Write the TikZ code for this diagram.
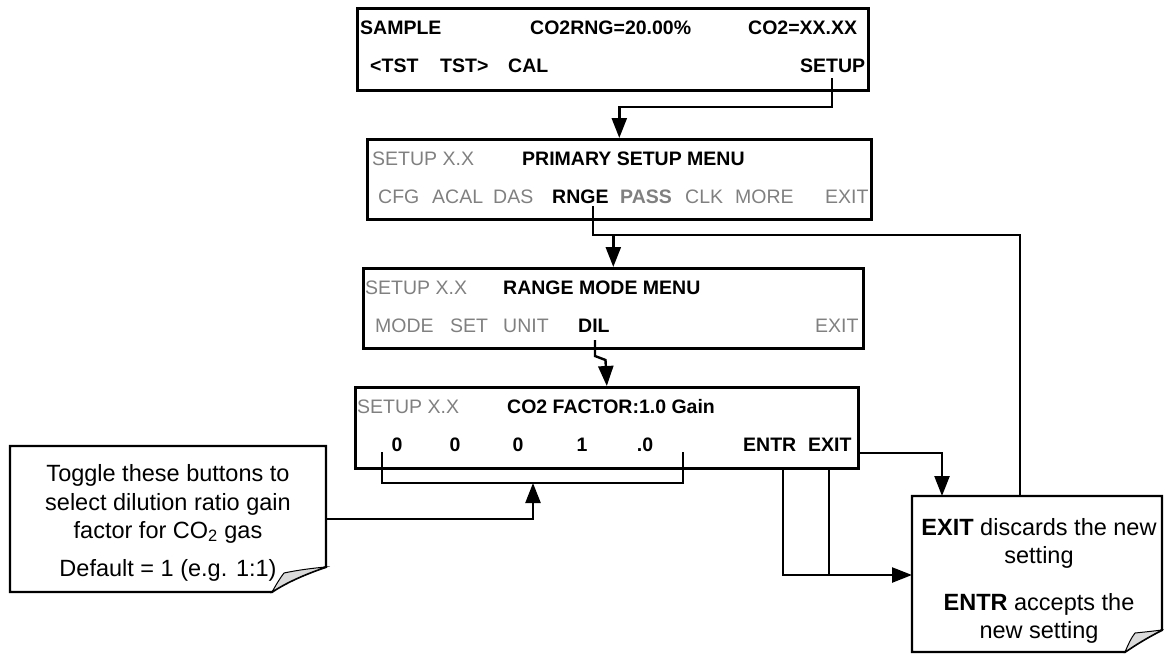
\documentclass[tikz,border=0pt]{standalone}
\usepackage{fontspec}
\setmainfont{Liberation Sans}
\usetikzlibrary{arrows.meta}
\definecolor{keygray}{RGB}{128,128,128}
\definecolor{foldgray}{RGB}{218,218,218}
\begin{document}
\begin{tikzpicture}[x=1pt,y=-1pt,
  panel/.style={draw, line width=2.6pt, inner sep=0pt, anchor=north west},
  dtxt/.style={font=\fontsize{19.5}{22}\selectfont, inner sep=0pt, anchor=base west},
  btxt/.style={dtxt, font=\fontsize{19.5}{22}\selectfont\bfseries},
  gtxt/.style={dtxt, text=keygray},
  gbtxt/.style={btxt, text=keygray},
  digit/.style={btxt, anchor=base},
  ntxt/.style={font=\fontsize{23.5}{28}\selectfont, inner sep=0pt, anchor=base},
  wire/.style={line width=2.4pt},
  arr/.style={wire, -{Triangle[length=20pt,width=15pt]}},
  notebox/.style={line width=2.2pt, fill=white, line join=miter},
  flap/.style={line width=1pt, fill=foldgray}
]
\useasboundingbox (0,0) rectangle (1164,654);

% ---------- panel 1 ----------
\node[panel, minimum width=511pt, minimum height=82pt] (p1) at (356,7) {};
\node[btxt] (sample) at (360,34) {SAMPLE};
\node[btxt] (rng) at (530,34) {CO2RNG=20.00\%};
\node[btxt] (conc) at (748,34) {CO2=XX.XX};
\node[btxt] (tstl) at (370,72) {<TST};
\node[btxt] (tstr) at (440,72) {TST>};
\node[btxt] (cal) at (508,72) {CAL};
\node[btxt] (setup) at (800,72) {SETUP};

% ---------- panel 2 ----------
\node[panel, minimum width=504pt, minimum height=80pt] (p2) at (366,138) {};
\node[gtxt] (s2) at (372,165) {SETUP X.X};
\node[btxt] (psm) at (522,165) {PRIMARY SETUP MENU};
\node[gtxt] (cfg) at (378,203) {CFG};
\node[gtxt] (acal) at (432,203) {ACAL};
\node[gtxt] (das) at (493,203) {DAS};
\node[btxt] (rnge) at (552,203) {RNGE};
\node[gbtxt] (pass) at (620,203) {PASS};
\node[gtxt] (clk) at (685,203) {CLK};
\node[gtxt] (more) at (735,203) {MORE};
\node[gtxt] (exit2) at (825,203) {EXIT};

% ---------- panel 3 ----------
\node[panel, minimum width=500pt, minimum height=80pt] (p3) at (362,267) {};
\node[gtxt] (s3) at (365,294) {SETUP X.X};
\node[btxt] (rmm) at (503,294) {RANGE MODE MENU};
\node[gtxt] (mode) at (375,332) {MODE};
\node[gtxt] (set) at (450,332) {SET};
\node[gtxt] (unit) at (503,332) {UNIT};
\node[btxt] (dil) at (578,332) {DIL};
\node[gtxt] (exit3) at (815,332) {EXIT};

% ---------- panel 4 ----------
\node[panel, minimum width=503pt, minimum height=81pt] (p4) at (354,386) {};
\node[gtxt] (s4) at (357,413) {SETUP X.X};
\node[btxt] (fac) at (507,413) {CO2 FACTOR:1.0 Gain};
\node[digit] (d1) at (397,451) {0};
\node[digit] (d2) at (455,451) {0};
\node[digit] (d3) at (518,451) {0};
\node[digit] (d4) at (582,451) {1};
\node[digit] (d5) at (645,451) {.0};
\node[btxt] (entr) at (743,451) {ENTR};
\node[btxt] (exit4) at (808,451) {EXIT};

% ---------- left note ----------
\draw[notebox] (10,446) -- (326,446) -- (326,567)
  .. controls (305,574) and (285,583) .. (272,592) -- (10,592) -- cycle;
\draw[flap] (272,592) .. controls (276,585) and (280,578) .. (284,573)
  .. controls (298,570) and (314,568) .. (326,567)
  .. controls (305,574) and (285,583) .. (272,592) -- cycle;
\node[ntxt] (l1) at (168,481) {Toggle these buttons to};
\node[ntxt] (l2) at (168,510) {select dilution ratio gain};
\node[ntxt] (l3) at (168,538) {factor for CO\textsubscript{2} gas};
\node[ntxt] (l4) at (168,576) {Default = 1 (e.g. 1:1)};
\coordinate (lnoteR) at (326,519);

% ---------- right note ----------
\draw[notebox] (912,496) -- (1162,496) -- (1162,630)
  .. controls (1148,637) and (1135,645) .. (1125,652) -- (912,652) -- cycle;
\draw[flap] (1125,652) .. controls (1128,645) and (1131,638) .. (1135,633)
  .. controls (1145,632) and (1154,631) .. (1162,630)
  .. controls (1148,637) and (1135,645) .. (1125,652) -- cycle;
\node[ntxt] (r1) at (1039,535) {\textbf{EXIT} discards the new};
\node[ntxt] (r2) at (1039,563) {setting};
\node[ntxt] (r3) at (1039,610) {\textbf{ENTR} accepts the};
\node[ntxt] (r4) at (1039,638) {new setting};
\coordinate (rnoteTopA) at (942,496);
\coordinate (rnoteTopB) at (1020,496);
\coordinate (rnoteW) at (912,575);

% ---------- connectors ----------
\coordinate (setupK) at (832,78);
\draw[arr] (setupK) -- ++(0,29) -| (p2.north);

\coordinate (rngeK) at (593,206);
\coordinate (retC) at (1020,235);
\draw[wire] (rngeK) |- (retC) -- (rnoteTopB);
\draw[arr] (p3.north |- retC) -- (p3.north);

\coordinate (dilK) at (595,340);
\draw[arr] (dilK) -- ++(0,16) -- ++(10.5,4) -- (p4.north);

\coordinate (exitRow) at (0,453);
\draw[arr] (p4.east |- exitRow) -| (rnoteTopA);

\coordinate (entrB) at (783,467);
\coordinate (exitB) at (829,467);
\draw[wire] (entrB) |- (exitB |- rnoteW);
\draw[wire] (exitB) -- (exitB |- rnoteW);
\draw[arr] (exitB |- rnoteW) -- (rnoteW);

\coordinate (brL) at (382,452);
\coordinate (brR) at (683,452);
\coordinate (brM) at (533,483);
\draw[wire] (brL) |- (brR |- brM) -- (brR);
\draw[arr] (lnoteR) -| (brM);
\end{tikzpicture}
\end{document}
